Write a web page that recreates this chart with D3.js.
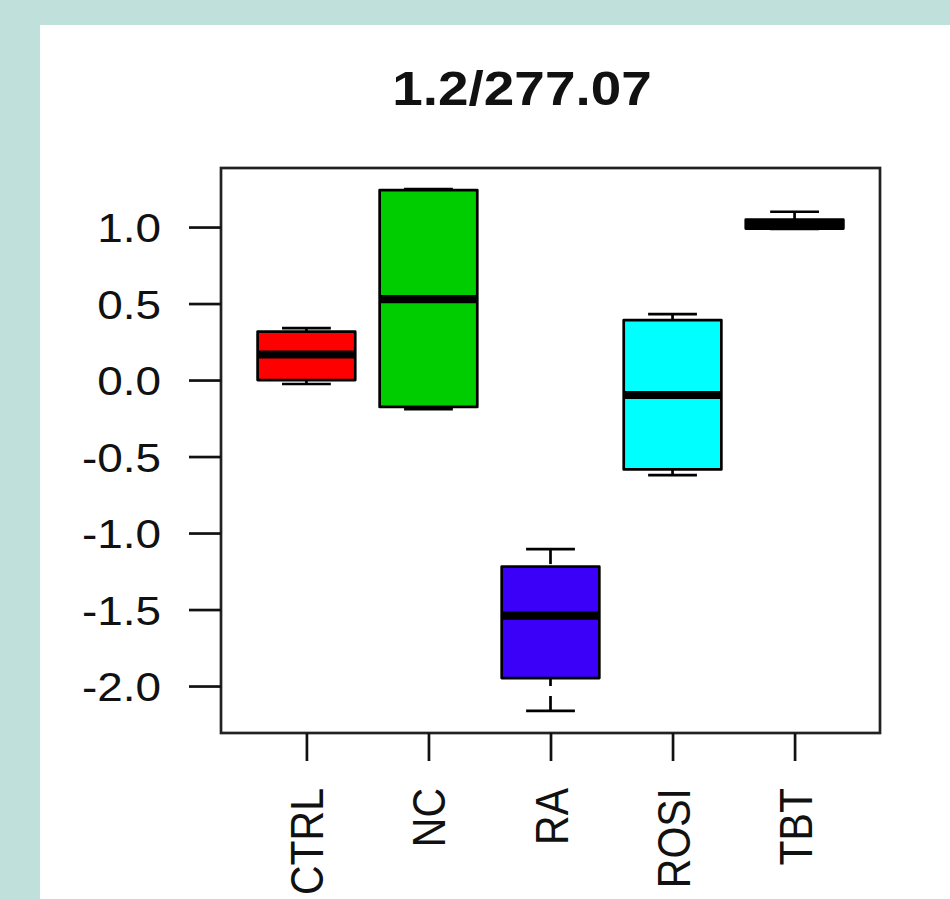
<!DOCTYPE html>
<html>
<head>
<meta charset="utf-8">
<script src="https://cdn.jsdelivr.net/npm/d3@7"></script>
<style>
    body { margin: 0; background: #c0e0db; }
    svg { display: block; }
    text { font-family: "Liberation Sans", Arial, sans-serif; fill: #111; }
</style>
</head>
<body>
<svg id="boxChart"></svg>
<script>
/** Chart data **/
var groups      = ["CTRL", "NC", "RA", "ROSI", "TBT"];
var whiskerLow  = [-0.026, -0.190, -2.163, -0.621, 0.988];
var q1          = [ 0.000, -0.176, -1.948, -0.584, 0.990];
var medians     = [ 0.167,  0.529, -1.540, -0.098, 1.019];
var q3          = [ 0.316,  1.242, -1.220,  0.392, 1.048];
var whiskerHigh = [ 0.340,  1.248, -1.105,  0.431, 1.100];
var boxColors   = ["#ff0000", "#00cd00", "#3b00f8", "#00ffff", "#ff00ff"];
var yTicks      = [-2.0, -1.5, -1.0, -0.5, 0.0, 0.5, 1.0];
var titleText   = "1.2/277.07";

drawBoxplot();

function drawBoxplot()
{
    var fig_width = 950;
    var fig_height = 899;

    var plot_left = 221;
    var plot_right = 880;
    var plot_top = 168;
    var plot_bottom = 733;

    var stretch = 1.12;           // reference is widened a bit horizontally
    var lw = 2.7;                 // base line width
    var boxWidth = 0.8;           // in x units, like R boxwex
    var capWidth = 0.4;

    var svg = d3.select("#boxChart")
        .attr("width", fig_width)
        .attr("height", fig_height);

    // white figure panel
    svg.append("rect")
        .attr("x", 40).attr("y", 25)
        .attr("width", fig_width - 40)
        .attr("height", fig_height - 25)
        .style("fill", "#ffffff");

    var xScale = d3.scaleLinear()
        .domain([0.3, groups.length + 0.7])
        .range([plot_left, plot_right]);

    var yScale = d3.scaleLinear()
        .domain([-2.307, 1.386])
        .range([plot_bottom, plot_top]);

    var data = groups.map(function(g, i) {
        return { name: g, pos: i + 1, lo: whiskerLow[i], q1: q1[i], med: medians[i],
                 q3: q3[i], hi: whiskerHigh[i], color: boxColors[i] };
    });

    var boxes = svg.append("g").attr("id", "boxes")
        .selectAll("g")
        .data(data)
        .enter()
        .append("g");

    // dashed whiskers, drawn from the whisker end toward the box
    boxes.append("line")
        .attr("x1", function(d) { return xScale(d.pos); })
        .attr("x2", function(d) { return xScale(d.pos); })
        .attr("y1", function(d) { return yScale(d.lo); })
        .attr("y2", function(d) { return yScale(d.q1); })
        .style("stroke", "#000").style("stroke-width", lw)
        .style("stroke-dasharray", "15,10");

    boxes.append("line")
        .attr("x1", function(d) { return xScale(d.pos); })
        .attr("x2", function(d) { return xScale(d.pos); })
        .attr("y1", function(d) { return yScale(d.hi); })
        .attr("y2", function(d) { return yScale(d.q3); })
        .style("stroke", "#000").style("stroke-width", lw)
        .style("stroke-dasharray", "15,10");

    // staples
    ["lo", "hi"].forEach(function(key) {
        boxes.append("line")
            .attr("x1", function(d) { return xScale(d.pos - capWidth / 2); })
            .attr("x2", function(d) { return xScale(d.pos + capWidth / 2); })
            .attr("y1", function(d) { return yScale(d[key]); })
            .attr("y2", function(d) { return yScale(d[key]); })
            .style("stroke", "#000").style("stroke-width", lw);
    });

    boxes.append("rect")
        .attr("x", function(d) { return xScale(d.pos - boxWidth / 2); })
        .attr("width", function(d) { return xScale(d.pos + boxWidth / 2) - xScale(d.pos - boxWidth / 2); })
        .attr("y", function(d) { return yScale(d.q3); })
        .attr("height", function(d) { return yScale(d.q1) - yScale(d.q3); })
        .style("fill", function(d) { return d.color; })
        .style("stroke", "#000")
        .style("stroke-width", lw)
        .style("stroke-linejoin", "round");

    // medians, butt ends so they stop at the box edge
    boxes.append("line")
        .attr("x1", function(d) { return xScale(d.pos - boxWidth / 2); })
        .attr("x2", function(d) { return xScale(d.pos + boxWidth / 2); })
        .attr("y1", function(d) { return yScale(d.med); })
        .attr("y2", function(d) { return yScale(d.med); })
        .style("stroke", "#000").style("stroke-width", lw * 3)
        .style("stroke-linecap", "butt");

    // plot frame
    svg.append("rect")
        .attr("x", plot_left).attr("y", plot_top)
        .attr("width", plot_right - plot_left)
        .attr("height", plot_bottom - plot_top)
        .style("fill", "none")
        .style("stroke", "#222")
        .style("stroke-width", lw);

    // y axis
    var yAxis = d3.axisLeft(yScale)
        .tickValues(yTicks)
        .tickSize(32)
        .tickFormat(function(v) { return v.toFixed(1); });

    var gy = svg.append("g")
        .attr("id", "yAxis")
        .attr("transform", "translate(" + plot_left + ",0)")
        .call(yAxis);

    gy.select(".domain").remove();
    gy.selectAll(".tick line").style("stroke", "#111").style("stroke-width", lw);
    gy.selectAll(".tick text")
        .attr("x", 0)
        .attr("dy", "0.36em")
        .attr("transform", "translate(-60,0) scale(" + stretch + ",1)")
        .style("font-size", "41px")
        .style("fill", "#111")
        .style("text-anchor", "end");

    // x axis
    var xAxis = d3.axisBottom(xScale)
        .tickValues(groups.map(function(g, i) { return i + 1; }))
        .tickSize(28)
        .tickFormat(function(v) { return groups[v - 1]; });

    var gx = svg.append("g")
        .attr("id", "xAxis")
        .attr("transform", "translate(0," + plot_bottom + ")")
        .call(xAxis);

    gx.select(".domain").remove();
    gx.selectAll(".tick line").style("stroke", "#111").style("stroke-width", lw);
    gx.selectAll(".tick text")
        .attr("x", 0)
        .attr("y", 0)
        .attr("dy", "0.36em")
        .attr("transform", "translate(0,55) scale(" + stretch + ",1) rotate(-90)")
        .style("font-size", "41px")
        .style("fill", "#111")
        .style("text-anchor", "end");

    // title
    svg.append("text")
        .attr("transform", "translate(522,105) scale(" + stretch + ",1)")
        .style("text-anchor", "middle")
        .style("font-size", "49px")
        .style("font-weight", "bold")
        .text(titleText);
}
</script>
</body>
</html>
